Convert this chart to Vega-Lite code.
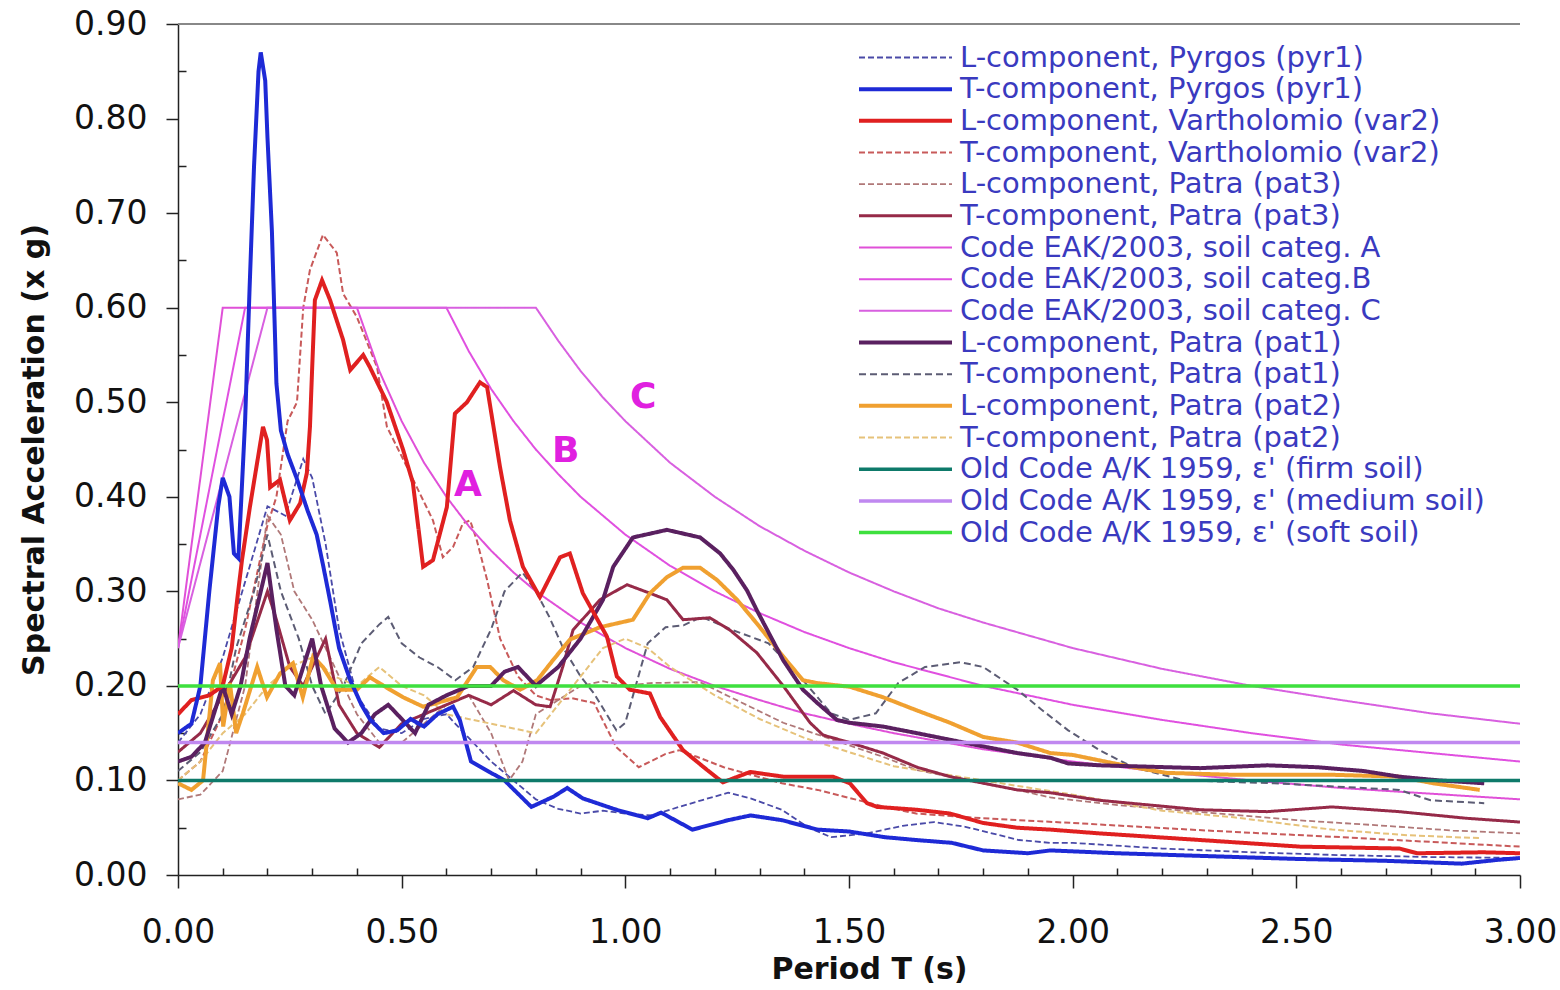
{
"$schema": "https://vega.github.io/schema/vega-lite/v6.json",
"width": 1342, "height": 851,
"autosize": {"type": "none"},
"padding": {"left": 178, "top": 24, "right": 40, "bottom": 115},
"background": "white",
"config": {
  "view": {"stroke": null},
  "font": "DejaVu Sans",
  "axis": {"grid": false, "domainColor": "#222", "tickColor": "#222", "labelColor": "#111", "titleColor": "#111", "domainWidth": 1.5, "tickWidth": 1.5, "labelFont": "DejaVu Sans", "titleFont": "DejaVu Sans"}
},
"datasets": {
"series": [
{"s":"a","T":0,"v":0.14},{"s":"a","T":0.05,"v":0.17},{"s":"a","T":0.1,"v":0.23},{"s":"a","T":0.15,"v":0.31},{"s":"a","T":0.2,"v":0.39},{"s":"a","T":0.24,"v":0.38},{"s":"a","T":0.28,"v":0.44},{"s":"a","T":0.3,"v":0.42},{"s":"a","T":0.33,"v":0.35},{"s":"a","T":0.36,"v":0.26},{"s":"a","T":0.4,"v":0.19},{"s":"a","T":0.45,"v":0.155},{"s":"a","T":0.5,"v":0.15},{"s":"a","T":0.55,"v":0.165},{"s":"a","T":0.6,"v":0.17},{"s":"a","T":0.65,"v":0.145},{"s":"a","T":0.7,"v":0.12},{"s":"a","T":0.75,"v":0.1},{"s":"a","T":0.8,"v":0.08},{"s":"a","T":0.85,"v":0.07},{"s":"a","T":0.9,"v":0.065},{"s":"a","T":0.95,"v":0.068},{"s":"a","T":1.0,"v":0.065},{"s":"a","T":1.06,"v":0.063},{"s":"a","T":1.12,"v":0.072},{"s":"a","T":1.17,"v":0.079},{"s":"a","T":1.23,"v":0.087},{"s":"a","T":1.28,"v":0.081},{"s":"a","T":1.35,"v":0.069},{"s":"a","T":1.41,"v":0.05},{"s":"a","T":1.46,"v":0.04},{"s":"a","T":1.54,"v":0.044},{"s":"a","T":1.62,"v":0.052},{"s":"a","T":1.69,"v":0.056},{"s":"a","T":1.76,"v":0.051},{"s":"a","T":1.88,"v":0.037},{"s":"a","T":1.95,"v":0.034},{"s":"a","T":2.0,"v":0.034},{"s":"a","T":2.2,"v":0.028},{"s":"a","T":2.4,"v":0.024},{"s":"a","T":2.6,"v":0.021},{"s":"a","T":2.8,"v":0.019},{"s":"a","T":3.0,"v":0.018},
{"s":"d","T":0,"v":0.1},{"s":"d","T":0.05,"v":0.12},{"s":"d","T":0.1,"v":0.17},{"s":"d","T":0.15,"v":0.26},{"s":"d","T":0.2,"v":0.37},{"s":"d","T":0.22,"v":0.4},{"s":"d","T":0.245,"v":0.48},{"s":"d","T":0.266,"v":0.5},{"s":"d","T":0.28,"v":0.6},{"s":"d","T":0.295,"v":0.64},{"s":"d","T":0.324,"v":0.677},{"s":"d","T":0.355,"v":0.658},{"s":"d","T":0.369,"v":0.615},{"s":"d","T":0.4,"v":0.59},{"s":"d","T":0.445,"v":0.537},{"s":"d","T":0.467,"v":0.474},{"s":"d","T":0.503,"v":0.44},{"s":"d","T":0.534,"v":0.41},{"s":"d","T":0.57,"v":0.375},{"s":"d","T":0.592,"v":0.336},{"s":"d","T":0.615,"v":0.347},{"s":"d","T":0.637,"v":0.372},{"s":"d","T":0.653,"v":0.375},{"s":"d","T":0.668,"v":0.354},{"s":"d","T":0.691,"v":0.312},{"s":"d","T":0.72,"v":0.25},{"s":"d","T":0.76,"v":0.21},{"s":"d","T":0.8,"v":0.19},{"s":"d","T":0.832,"v":0.185},{"s":"d","T":0.88,"v":0.187},{"s":"d","T":0.93,"v":0.182},{"s":"d","T":0.98,"v":0.135},{"s":"d","T":1.03,"v":0.114},{"s":"d","T":1.09,"v":0.128},{"s":"d","T":1.12,"v":0.132},{"s":"d","T":1.16,"v":0.125},{"s":"d","T":1.22,"v":0.114},{"s":"d","T":1.35,"v":0.097},{"s":"d","T":1.43,"v":0.09},{"s":"d","T":1.58,"v":0.072},{"s":"d","T":1.65,"v":0.065},{"s":"d","T":1.8,"v":0.06},{"s":"d","T":2.0,"v":0.055},{"s":"d","T":2.3,"v":0.047},{"s":"d","T":2.6,"v":0.04},{"s":"d","T":3.0,"v":0.03},
{"s":"e","T":0,"v":0.08},{"s":"e","T":0.05,"v":0.085},{"s":"e","T":0.1,"v":0.11},{"s":"e","T":0.15,"v":0.2},{"s":"e","T":0.2,"v":0.38},{"s":"e","T":0.23,"v":0.36},{"s":"e","T":0.26,"v":0.3},{"s":"e","T":0.3,"v":0.27},{"s":"e","T":0.35,"v":0.22},{"s":"e","T":0.4,"v":0.17},{"s":"e","T":0.45,"v":0.14},{"s":"e","T":0.5,"v":0.14},{"s":"e","T":0.55,"v":0.16},{"s":"e","T":0.6,"v":0.18},{"s":"e","T":0.65,"v":0.19},{"s":"e","T":0.7,"v":0.15},{"s":"e","T":0.74,"v":0.1},{"s":"e","T":0.77,"v":0.12},{"s":"e","T":0.8,"v":0.17},{"s":"e","T":0.85,"v":0.185},{"s":"e","T":0.9,"v":0.2},{"s":"e","T":0.95,"v":0.205},{"s":"e","T":1.0,"v":0.2},{"s":"e","T":1.055,"v":0.203},{"s":"e","T":1.167,"v":0.204},{"s":"e","T":1.218,"v":0.192},{"s":"e","T":1.279,"v":0.178},{"s":"e","T":1.353,"v":0.161},{"s":"e","T":1.464,"v":0.143},{"s":"e","T":1.576,"v":0.125},{"s":"e","T":1.652,"v":0.111},{"s":"e","T":1.8,"v":0.097},{"s":"e","T":1.876,"v":0.09},{"s":"e","T":1.95,"v":0.082},{"s":"e","T":2.1,"v":0.074},{"s":"e","T":2.3,"v":0.066},{"s":"e","T":2.5,"v":0.058},{"s":"e","T":2.7,"v":0.052},{"s":"e","T":2.85,"v":0.047},{"s":"e","T":3.0,"v":0.044},
{"s":"g","T":0,"v":0.24},{"s":"g","T":0.1,"v":0.6},{"s":"g","T":0.4,"v":0.6},{"s":"g","T":0.45,"v":0.533},{"s":"g","T":0.5,"v":0.48},{"s":"g","T":0.55,"v":0.436},{"s":"g","T":0.6,"v":0.4},{"s":"g","T":0.65,"v":0.369},{"s":"g","T":0.7,"v":0.343},{"s":"g","T":0.75,"v":0.32},{"s":"g","T":0.8,"v":0.3},{"s":"g","T":0.9,"v":0.267},{"s":"g","T":1.0,"v":0.24},{"s":"g","T":1.1,"v":0.218},{"s":"g","T":1.2,"v":0.2},{"s":"g","T":1.3,"v":0.185},{"s":"g","T":1.4,"v":0.171},{"s":"g","T":1.5,"v":0.16},{"s":"g","T":1.6,"v":0.15},{"s":"g","T":1.8,"v":0.133},{"s":"g","T":2.0,"v":0.12},{"s":"g","T":2.2,"v":0.109},{"s":"g","T":2.4,"v":0.1},{"s":"g","T":2.6,"v":0.092},{"s":"g","T":2.8,"v":0.086},{"s":"g","T":3.0,"v":0.08},
{"s":"h","T":0,"v":0.24},{"s":"h","T":0.15,"v":0.6},{"s":"h","T":0.6,"v":0.6},{"s":"h","T":0.65,"v":0.554},{"s":"h","T":0.7,"v":0.514},{"s":"h","T":0.75,"v":0.48},{"s":"h","T":0.8,"v":0.45},{"s":"h","T":0.85,"v":0.424},{"s":"h","T":0.9,"v":0.4},{"s":"h","T":1.0,"v":0.36},{"s":"h","T":1.1,"v":0.327},{"s":"h","T":1.2,"v":0.3},{"s":"h","T":1.3,"v":0.277},{"s":"h","T":1.4,"v":0.257},{"s":"h","T":1.5,"v":0.24},{"s":"h","T":1.6,"v":0.225},{"s":"h","T":1.8,"v":0.2},{"s":"h","T":2.0,"v":0.18},{"s":"h","T":2.2,"v":0.164},{"s":"h","T":2.4,"v":0.15},{"s":"h","T":2.6,"v":0.138},{"s":"h","T":2.8,"v":0.129},{"s":"h","T":3.0,"v":0.12},
{"s":"i","T":0,"v":0.24},{"s":"i","T":0.2,"v":0.6},{"s":"i","T":0.8,"v":0.6},{"s":"i","T":0.85,"v":0.565},{"s":"i","T":0.9,"v":0.533},{"s":"i","T":0.95,"v":0.505},{"s":"i","T":1.0,"v":0.48},{"s":"i","T":1.1,"v":0.436},{"s":"i","T":1.2,"v":0.4},{"s":"i","T":1.3,"v":0.369},{"s":"i","T":1.4,"v":0.343},{"s":"i","T":1.5,"v":0.32},{"s":"i","T":1.6,"v":0.3},{"s":"i","T":1.7,"v":0.282},{"s":"i","T":1.8,"v":0.267},{"s":"i","T":2.0,"v":0.24},{"s":"i","T":2.2,"v":0.218},{"s":"i","T":2.4,"v":0.2},{"s":"i","T":2.6,"v":0.185},{"s":"i","T":2.8,"v":0.171},{"s":"i","T":3.0,"v":0.16},
{"s":"k","T":0,"v":0.11},{"s":"k","T":0.05,"v":0.13},{"s":"k","T":0.1,"v":0.17},{"s":"k","T":0.13,"v":0.24},{"s":"k","T":0.17,"v":0.3},{"s":"k","T":0.2,"v":0.36},{"s":"k","T":0.23,"v":0.3},{"s":"k","T":0.27,"v":0.25},{"s":"k","T":0.3,"v":0.2},{"s":"k","T":0.33,"v":0.17},{"s":"k","T":0.37,"v":0.2},{"s":"k","T":0.41,"v":0.245},{"s":"k","T":0.45,"v":0.265},{"s":"k","T":0.47,"v":0.273},{"s":"k","T":0.5,"v":0.245},{"s":"k","T":0.54,"v":0.23},{"s":"k","T":0.58,"v":0.22},{"s":"k","T":0.62,"v":0.206},{"s":"k","T":0.66,"v":0.22},{"s":"k","T":0.7,"v":0.26},{"s":"k","T":0.73,"v":0.3},{"s":"k","T":0.77,"v":0.32},{"s":"k","T":0.8,"v":0.3},{"s":"k","T":0.83,"v":0.273},{"s":"k","T":0.86,"v":0.241},{"s":"k","T":0.9,"v":0.21},{"s":"k","T":0.93,"v":0.192},{"s":"k","T":0.98,"v":0.153},{"s":"k","T":1.0,"v":0.161},{"s":"k","T":1.05,"v":0.245},{"s":"k","T":1.09,"v":0.262},{"s":"k","T":1.13,"v":0.264},{"s":"k","T":1.17,"v":0.273},{"s":"k","T":1.24,"v":0.259},{"s":"k","T":1.32,"v":0.245},{"s":"k","T":1.39,"v":0.21},{"s":"k","T":1.46,"v":0.171},{"s":"k","T":1.5,"v":0.164},{"s":"k","T":1.56,"v":0.171},{"s":"k","T":1.61,"v":0.203},{"s":"k","T":1.67,"v":0.22},{"s":"k","T":1.75,"v":0.225},{"s":"k","T":1.8,"v":0.22},{"s":"k","T":1.876,"v":0.196},{"s":"k","T":1.93,"v":0.175},{"s":"k","T":1.99,"v":0.153},{"s":"k","T":2.06,"v":0.132},{"s":"k","T":2.135,"v":0.114},{"s":"k","T":2.25,"v":0.1},{"s":"k","T":2.45,"v":0.097},{"s":"k","T":2.73,"v":0.09},{"s":"k","T":2.8,"v":0.079},{"s":"k","T":2.92,"v":0.076},
{"s":"m","T":0,"v":0.1},{"s":"m","T":0.05,"v":0.12},{"s":"m","T":0.1,"v":0.15},{"s":"m","T":0.15,"v":0.17},{"s":"m","T":0.2,"v":0.2},{"s":"m","T":0.25,"v":0.22},{"s":"m","T":0.3,"v":0.23},{"s":"m","T":0.35,"v":0.21},{"s":"m","T":0.4,"v":0.2},{"s":"m","T":0.45,"v":0.22},{"s":"m","T":0.5,"v":0.2},{"s":"m","T":0.55,"v":0.19},{"s":"m","T":0.6,"v":0.17},{"s":"m","T":0.7,"v":0.16},{"s":"m","T":0.8,"v":0.15},{"s":"m","T":0.85,"v":0.18},{"s":"m","T":0.9,"v":0.21},{"s":"m","T":0.95,"v":0.24},{"s":"m","T":1.0,"v":0.25},{"s":"m","T":1.05,"v":0.24},{"s":"m","T":1.1,"v":0.22},{"s":"m","T":1.2,"v":0.19},{"s":"m","T":1.3,"v":0.165},{"s":"m","T":1.4,"v":0.145},{"s":"m","T":1.5,"v":0.13},{"s":"m","T":1.6,"v":0.115},{"s":"m","T":1.8,"v":0.1},{"s":"m","T":2.0,"v":0.085},{"s":"m","T":2.2,"v":0.068},{"s":"m","T":2.36,"v":0.061},{"s":"m","T":2.58,"v":0.048},{"s":"m","T":2.75,"v":0.042},{"s":"m","T":2.91,"v":0.039},
{"s":"f","T":0,"v":0.13},{"s":"f","T":0.05,"v":0.15},{"s":"f","T":0.1,"v":0.19},{"s":"f","T":0.15,"v":0.23},{"s":"f","T":0.2,"v":0.3},{"s":"f","T":0.22,"v":0.27},{"s":"f","T":0.25,"v":0.22},{"s":"f","T":0.28,"v":0.2},{"s":"f","T":0.3,"v":0.22},{"s":"f","T":0.33,"v":0.25},{"s":"f","T":0.36,"v":0.18},{"s":"f","T":0.4,"v":0.15},{"s":"f","T":0.45,"v":0.135},{"s":"f","T":0.5,"v":0.16},{"s":"f","T":0.55,"v":0.17},{"s":"f","T":0.6,"v":0.18},{"s":"f","T":0.65,"v":0.19},{"s":"f","T":0.7,"v":0.18},{"s":"f","T":0.75,"v":0.195},{"s":"f","T":0.8,"v":0.18},{"s":"f","T":0.832,"v":0.178},{"s":"f","T":0.86,"v":0.22},{"s":"f","T":0.883,"v":0.259},{"s":"f","T":0.943,"v":0.291},{"s":"f","T":1.004,"v":0.307},{"s":"f","T":1.055,"v":0.298},{"s":"f","T":1.093,"v":0.291},{"s":"f","T":1.129,"v":0.27},{"s":"f","T":1.189,"v":0.272},{"s":"f","T":1.234,"v":0.259},{"s":"f","T":1.294,"v":0.235},{"s":"f","T":1.353,"v":0.2},{"s":"f","T":1.413,"v":0.161},{"s":"f","T":1.442,"v":0.148},{"s":"f","T":1.502,"v":0.14},{"s":"f","T":1.576,"v":0.129},{"s":"f","T":1.652,"v":0.114},{"s":"f","T":1.726,"v":0.104},{"s":"f","T":1.876,"v":0.09},{"s":"f","T":1.95,"v":0.087},{"s":"f","T":2.06,"v":0.079},{"s":"f","T":2.285,"v":0.069},{"s":"f","T":2.435,"v":0.067},{"s":"f","T":2.58,"v":0.072},{"s":"f","T":2.73,"v":0.067},{"s":"f","T":2.88,"v":0.06},{"s":"f","T":3.0,"v":0.056},
{"s":"l","T":0,"v":0.097},{"s":"l","T":0.03,"v":0.09},{"s":"l","T":0.056,"v":0.1},{"s":"l","T":0.078,"v":0.206},{"s":"l","T":0.094,"v":0.224},{"s":"l","T":0.101,"v":0.157},{"s":"l","T":0.116,"v":0.203},{"s":"l","T":0.13,"v":0.15},{"s":"l","T":0.145,"v":0.171},{"s":"l","T":0.177,"v":0.22},{"s":"l","T":0.199,"v":0.188},{"s":"l","T":0.228,"v":0.213},{"s":"l","T":0.257,"v":0.224},{"s":"l","T":0.279,"v":0.188},{"s":"l","T":0.302,"v":0.231},{"s":"l","T":0.324,"v":0.22},{"s":"l","T":0.355,"v":0.196},{"s":"l","T":0.4,"v":0.196},{"s":"l","T":0.429,"v":0.209},{"s":"l","T":0.474,"v":0.196},{"s":"l","T":0.503,"v":0.188},{"s":"l","T":0.548,"v":0.178},{"s":"l","T":0.579,"v":0.182},{"s":"l","T":0.624,"v":0.188},{"s":"l","T":0.668,"v":0.22},{"s":"l","T":0.698,"v":0.22},{"s":"l","T":0.727,"v":0.206},{"s":"l","T":0.765,"v":0.196},{"s":"l","T":0.803,"v":0.206},{"s":"l","T":0.838,"v":0.227},{"s":"l","T":0.876,"v":0.249},{"s":"l","T":0.943,"v":0.262},{"s":"l","T":1.017,"v":0.27},{"s":"l","T":1.055,"v":0.298},{"s":"l","T":1.093,"v":0.315},{"s":"l","T":1.129,"v":0.325},{"s":"l","T":1.167,"v":0.325},{"s":"l","T":1.205,"v":0.312},{"s":"l","T":1.25,"v":0.291},{"s":"l","T":1.294,"v":0.266},{"s":"l","T":1.353,"v":0.231},{"s":"l","T":1.397,"v":0.206},{"s":"l","T":1.429,"v":0.203},{"s":"l","T":1.502,"v":0.199},{"s":"l","T":1.576,"v":0.188},{"s":"l","T":1.652,"v":0.174},{"s":"l","T":1.726,"v":0.161},{"s":"l","T":1.8,"v":0.146},{"s":"l","T":1.876,"v":0.14},{"s":"l","T":1.95,"v":0.129},{"s":"l","T":2.0,"v":0.127},{"s":"l","T":2.135,"v":0.114},{"s":"l","T":2.21,"v":0.108},{"s":"l","T":2.36,"v":0.106},{"s":"l","T":2.58,"v":0.106},{"s":"l","T":2.73,"v":0.104},{"s":"l","T":2.806,"v":0.097},{"s":"l","T":2.91,"v":0.09},
{"s":"j","T":0,"v":0.12},{"s":"j","T":0.03,"v":0.125},{"s":"j","T":0.06,"v":0.14},{"s":"j","T":0.08,"v":0.17},{"s":"j","T":0.1,"v":0.2},{"s":"j","T":0.12,"v":0.17},{"s":"j","T":0.14,"v":0.2},{"s":"j","T":0.16,"v":0.25},{"s":"j","T":0.18,"v":0.29},{"s":"j","T":0.2,"v":0.33},{"s":"j","T":0.22,"v":0.26},{"s":"j","T":0.24,"v":0.2},{"s":"j","T":0.26,"v":0.19},{"s":"j","T":0.28,"v":0.22},{"s":"j","T":0.3,"v":0.25},{"s":"j","T":0.32,"v":0.2},{"s":"j","T":0.35,"v":0.155},{"s":"j","T":0.38,"v":0.14},{"s":"j","T":0.41,"v":0.15},{"s":"j","T":0.44,"v":0.17},{"s":"j","T":0.47,"v":0.18},{"s":"j","T":0.5,"v":0.165},{"s":"j","T":0.53,"v":0.15},{"s":"j","T":0.56,"v":0.18},{"s":"j","T":0.6,"v":0.19},{"s":"j","T":0.65,"v":0.2},{"s":"j","T":0.7,"v":0.2},{"s":"j","T":0.73,"v":0.215},{"s":"j","T":0.76,"v":0.22},{"s":"j","T":0.8,"v":0.2},{"s":"j","T":0.85,"v":0.22},{"s":"j","T":0.9,"v":0.25},{"s":"j","T":0.95,"v":0.291},{"s":"j","T":0.973,"v":0.326},{"s":"j","T":1.017,"v":0.357},{"s":"j","T":1.093,"v":0.365},{"s":"j","T":1.167,"v":0.357},{"s":"j","T":1.212,"v":0.34},{"s":"j","T":1.241,"v":0.323},{"s":"j","T":1.272,"v":0.301},{"s":"j","T":1.294,"v":0.28},{"s":"j","T":1.353,"v":0.227},{"s":"j","T":1.397,"v":0.196},{"s":"j","T":1.429,"v":0.182},{"s":"j","T":1.473,"v":0.164},{"s":"j","T":1.502,"v":0.161},{"s":"j","T":1.576,"v":0.157},{"s":"j","T":1.652,"v":0.15},{"s":"j","T":1.726,"v":0.143},{"s":"j","T":1.8,"v":0.136},{"s":"j","T":1.876,"v":0.129},{"s":"j","T":1.95,"v":0.124},{"s":"j","T":1.99,"v":0.118},{"s":"j","T":2.06,"v":0.116},{"s":"j","T":2.285,"v":0.113},{"s":"j","T":2.435,"v":0.116},{"s":"j","T":2.546,"v":0.114},{"s":"j","T":2.65,"v":0.11},{"s":"j","T":2.73,"v":0.104},{"s":"j","T":2.82,"v":0.1},{"s":"j","T":2.92,"v":0.097},
{"s":"c","T":0,"v":0.17},{"s":"c","T":0.03,"v":0.185},{"s":"c","T":0.07,"v":0.19},{"s":"c","T":0.1,"v":0.2},{"s":"c","T":0.12,"v":0.24},{"s":"c","T":0.132,"v":0.29},{"s":"c","T":0.143,"v":0.333},{"s":"c","T":0.161,"v":0.39},{"s":"c","T":0.19,"v":0.474},{"s":"c","T":0.199,"v":0.46},{"s":"c","T":0.206,"v":0.41},{"s":"c","T":0.228,"v":0.418},{"s":"c","T":0.25,"v":0.375},{"s":"c","T":0.273,"v":0.393},{"s":"c","T":0.288,"v":0.425},{"s":"c","T":0.295,"v":0.474},{"s":"c","T":0.3,"v":0.537},{"s":"c","T":0.306,"v":0.608},{"s":"c","T":0.322,"v":0.629},{"s":"c","T":0.34,"v":0.608},{"s":"c","T":0.369,"v":0.566},{"s":"c","T":0.385,"v":0.534},{"s":"c","T":0.414,"v":0.55},{"s":"c","T":0.429,"v":0.537},{"s":"c","T":0.467,"v":0.5},{"s":"c","T":0.503,"v":0.45},{"s":"c","T":0.525,"v":0.415},{"s":"c","T":0.548,"v":0.326},{"s":"c","T":0.57,"v":0.333},{"s":"c","T":0.601,"v":0.389},{"s":"c","T":0.619,"v":0.488},{"s":"c","T":0.646,"v":0.5},{"s":"c","T":0.675,"v":0.521},{"s":"c","T":0.691,"v":0.516},{"s":"c","T":0.72,"v":0.431},{"s":"c","T":0.742,"v":0.375},{"s":"c","T":0.771,"v":0.326},{"s":"c","T":0.809,"v":0.294},{"s":"c","T":0.854,"v":0.336},{"s":"c","T":0.876,"v":0.34},{"s":"c","T":0.905,"v":0.298},{"s":"c","T":0.959,"v":0.252},{"s":"c","T":0.981,"v":0.21},{"s":"c","T":1.01,"v":0.196},{"s":"c","T":1.055,"v":0.192},{"s":"c","T":1.078,"v":0.167},{"s":"c","T":1.129,"v":0.132},{"s":"c","T":1.183,"v":0.111},{"s":"c","T":1.218,"v":0.098},{"s":"c","T":1.279,"v":0.109},{"s":"c","T":1.353,"v":0.104},{"s":"c","T":1.464,"v":0.104},{"s":"c","T":1.502,"v":0.097},{"s":"c","T":1.54,"v":0.076},{"s":"c","T":1.563,"v":0.072},{"s":"c","T":1.652,"v":0.069},{"s":"c","T":1.726,"v":0.065},{"s":"c","T":1.8,"v":0.055},{"s":"c","T":1.876,"v":0.05},{"s":"c","T":1.95,"v":0.048},{"s":"c","T":2.06,"v":0.044},{"s":"c","T":2.285,"v":0.037},{"s":"c","T":2.508,"v":0.03},{"s":"c","T":2.73,"v":0.028},{"s":"c","T":2.77,"v":0.023},{"s":"c","T":2.917,"v":0.024},{"s":"c","T":3.0,"v":0.023},
{"s":"b","T":0,"v":0.15},{"s":"b","T":0.03,"v":0.16},{"s":"b","T":0.05,"v":0.2},{"s":"b","T":0.07,"v":0.3},{"s":"b","T":0.09,"v":0.39},{"s":"b","T":0.1,"v":0.42},{"s":"b","T":0.115,"v":0.4},{"s":"b","T":0.125,"v":0.34},{"s":"b","T":0.135,"v":0.335},{"s":"b","T":0.15,"v":0.48},{"s":"b","T":0.16,"v":0.62},{"s":"b","T":0.17,"v":0.75},{"s":"b","T":0.18,"v":0.85},{"s":"b","T":0.185,"v":0.87},{"s":"b","T":0.195,"v":0.84},{"s":"b","T":0.2,"v":0.78},{"s":"b","T":0.21,"v":0.68},{"s":"b","T":0.215,"v":0.6},{"s":"b","T":0.22,"v":0.52},{"s":"b","T":0.23,"v":0.47},{"s":"b","T":0.245,"v":0.445},{"s":"b","T":0.265,"v":0.42},{"s":"b","T":0.29,"v":0.385},{"s":"b","T":0.31,"v":0.36},{"s":"b","T":0.325,"v":0.326},{"s":"b","T":0.34,"v":0.29},{"s":"b","T":0.36,"v":0.24},{"s":"b","T":0.385,"v":0.206},{"s":"b","T":0.41,"v":0.18},{"s":"b","T":0.43,"v":0.164},{"s":"b","T":0.46,"v":0.15},{"s":"b","T":0.49,"v":0.153},{"s":"b","T":0.52,"v":0.165},{"s":"b","T":0.55,"v":0.157},{"s":"b","T":0.58,"v":0.17},{"s":"b","T":0.615,"v":0.178},{"s":"b","T":0.63,"v":0.164},{"s":"b","T":0.655,"v":0.12},{"s":"b","T":0.7,"v":0.108},{"s":"b","T":0.73,"v":0.1},{"s":"b","T":0.79,"v":0.072},{"s":"b","T":0.84,"v":0.083},{"s":"b","T":0.87,"v":0.092},{"s":"b","T":0.905,"v":0.081},{"s":"b","T":0.98,"v":0.069},{"s":"b","T":1.05,"v":0.06},{"s":"b","T":1.08,"v":0.066},{"s":"b","T":1.15,"v":0.048},{"s":"b","T":1.23,"v":0.058},{"s":"b","T":1.28,"v":0.063},{"s":"b","T":1.35,"v":0.058},{"s":"b","T":1.43,"v":0.048},{"s":"b","T":1.5,"v":0.046},{"s":"b","T":1.58,"v":0.04},{"s":"b","T":1.65,"v":0.037},{"s":"b","T":1.73,"v":0.034},{"s":"b","T":1.8,"v":0.026},{"s":"b","T":1.9,"v":0.023},{"s":"b","T":1.95,"v":0.026},{"s":"b","T":2.0,"v":0.025},{"s":"b","T":2.1,"v":0.023},{"s":"b","T":2.3,"v":0.02},{"s":"b","T":2.5,"v":0.017},{"s":"b","T":2.7,"v":0.015},{"s":"b","T":2.87,"v":0.012},{"s":"b","T":2.95,"v":0.016},{"s":"b","T":3.0,"v":0.018},
{"s":"n","T":0,"v":0.1},{"s":"n","T":3,"v":0.1},
{"s":"o","T":0,"v":0.14},{"s":"o","T":3,"v":0.14},
{"s":"p","T":0,"v":0.2},{"s":"p","T":3,"v":0.2}
],
"labels": [
{"T":0.648,"v":0.412,"t":"A"},{"T":0.867,"v":0.448,"t":"B"},{"T":1.04,"v":0.505,"t":"C"}
],
"frame": [{"T":0,"v":0.9},{"T":3,"v":0.9}]
},
"encoding": {
  "x": {"field": "T", "type": "quantitative", "scale": {"domain": [0, 3], "nice": false, "zero": false},
    "axis": {"values": [0,0.1,0.2,0.3,0.4,0.5,0.6,0.7,0.8,0.9,1,1.1,1.2,1.3,1.4,1.5,1.6,1.7,1.8,1.9,2,2.1,2.2,2.3,2.4,2.5,2.6,2.7,2.8,2.9,3],
      "labelExpr": "abs(datum.value*2-round(datum.value*2))<0.001 ? format(datum.value,'.2f') : ''",
      "tickSize": {"condition": {"test": "abs(datum.value*2-round(datum.value*2))<0.001", "value": 13}, "value": -7},
      "labelFontSize": 33, "labelPadding": 28, "labelFlush": false, "labelOverlap": false,
      "title": "Period T (s)", "titleFontSize": 30, "titleFontWeight": "bold", "titlePadding": 5, "titleX": 691}},
  "y": {"field": "v", "type": "quantitative", "scale": {"domain": [0, 0.9], "nice": false, "zero": false},
    "axis": {"values": [0,0.05,0.1,0.15,0.2,0.25,0.3,0.35,0.4,0.45,0.5,0.55,0.6,0.65,0.7,0.75,0.8,0.85,0.9],
      "labelExpr": "abs(datum.value*10-round(datum.value*10))<0.001 ? format(datum.value,'.2f') : ''",
      "tickSize": {"condition": {"test": "abs(datum.value*10-round(datum.value*10))<0.001", "value": 12}, "value": -8},
      "labelFontSize": 33, "labelPadding": 19, "labelFlush": false, "labelOverlap": false,
      "title": "Spectral Acceleration (x g)", "titleFontSize": 30, "titleFontWeight": "bold", "titlePadding": 24}}
},
"layer": [
{
  "data": {"name": "series"},
  "mark": {"type": "line", "clip": true},
  "encoding": {
    "color": {"field": "s", "type": "nominal", "title": null, "sort": null,
      "scale": {"domain": ["a","b","c","d","e","f","g","h","i","j","k","l","m","n","o","p"],
        "range": ["#4a4aa8","#1e2ad6","#e02020","#c85a5a","#b07878","#962a48","#e050d8","#e050e0","#d860e0","#5a2060","#5c5c74","#f0a030","#e6c27a","#0e7a6a","#c088f0","#3ee03e"]},
      "legend": {"orient": "none", "legendX": 679, "legendY": 18, "direction": "vertical", "padding": 0,
        "labelExpr": "{\"a\":\"L-component, Pyrgos (pyr1)\",\"b\":\"T-component, Pyrgos (pyr1)\",\"c\":\"L-component, Vartholomio (var2)\",\"d\":\"T-component, Vartholomio (var2)\",\"e\":\"L-component, Patra (pat3)\",\"f\":\"T-component, Patra (pat3)\",\"g\":\"Code EAK/2003, soil categ. A\",\"h\":\"Code EAK/2003, soil categ.B\",\"i\":\"Code EAK/2003, soil categ. C\",\"j\":\"L-component, Patra (pat1)\",\"k\":\"T-component, Patra (pat1)\",\"l\":\"L-component, Patra (pat2)\",\"m\":\"T-component, Patra (pat2)\",\"n\":\"Old Code A/K 1959, ε' (firm soil)\",\"o\":\"Old Code A/K 1959, ε' (medium soil)\",\"p\":\"Old Code A/K 1959, ε' (soft soil)\"}[datum.value]",
        "labelFont": "DejaVu Sans", "labelFontSize": 29, "labelFontWeight": "normal", "labelColor": "#3a3abf", "labelLimit": 800, "labelOffset": 6,
        "symbolSize": 8649, "symbolType": "stroke", "clipHeight": 31, "rowPadding": 0.67}},
    "strokeDash": {"field": "s", "type": "nominal", "title": null, "sort": null,
      "scale": {"domain": ["a","b","c","d","e","f","g","h","i","j","k","l","m","n","o","p"],
        "range": [[6,3],[1,0],[1,0],[6,3],[6,3],[1,0],[1,0],[1,0],[1,0],[1,0],[7,4],[1,0],[6,3],[1,0],[1,0],[1,0]]},
      "legend": {"orient": "none", "legendX": 679, "legendY": 18, "direction": "vertical", "padding": 0,
        "labelExpr": "{\"a\":\"L-component, Pyrgos (pyr1)\",\"b\":\"T-component, Pyrgos (pyr1)\",\"c\":\"L-component, Vartholomio (var2)\",\"d\":\"T-component, Vartholomio (var2)\",\"e\":\"L-component, Patra (pat3)\",\"f\":\"T-component, Patra (pat3)\",\"g\":\"Code EAK/2003, soil categ. A\",\"h\":\"Code EAK/2003, soil categ.B\",\"i\":\"Code EAK/2003, soil categ. C\",\"j\":\"L-component, Patra (pat1)\",\"k\":\"T-component, Patra (pat1)\",\"l\":\"L-component, Patra (pat2)\",\"m\":\"T-component, Patra (pat2)\",\"n\":\"Old Code A/K 1959, ε' (firm soil)\",\"o\":\"Old Code A/K 1959, ε' (medium soil)\",\"p\":\"Old Code A/K 1959, ε' (soft soil)\"}[datum.value]",
        "labelFont": "DejaVu Sans", "labelFontSize": 29, "labelFontWeight": "normal", "labelColor": "#3a3abf", "labelLimit": 800, "labelOffset": 6,
        "symbolSize": 8649, "symbolType": "stroke", "clipHeight": 31, "rowPadding": 0.67}},
    "strokeWidth": {"field": "s", "type": "nominal", "title": null, "sort": null,
      "scale": {"type": "ordinal", "domain": ["a","b","c","d","e","f","g","h","i","j","k","l","m","n","o","p"],
        "range": [1.8,4,4,2,1.8,3,2,2,2,4,2,4,2,3.5,3.5,3.5]},
      "legend": {"orient": "none", "legendX": 679, "legendY": 18, "direction": "vertical", "padding": 0,
        "labelExpr": "{\"a\":\"L-component, Pyrgos (pyr1)\",\"b\":\"T-component, Pyrgos (pyr1)\",\"c\":\"L-component, Vartholomio (var2)\",\"d\":\"T-component, Vartholomio (var2)\",\"e\":\"L-component, Patra (pat3)\",\"f\":\"T-component, Patra (pat3)\",\"g\":\"Code EAK/2003, soil categ. A\",\"h\":\"Code EAK/2003, soil categ.B\",\"i\":\"Code EAK/2003, soil categ. C\",\"j\":\"L-component, Patra (pat1)\",\"k\":\"T-component, Patra (pat1)\",\"l\":\"L-component, Patra (pat2)\",\"m\":\"T-component, Patra (pat2)\",\"n\":\"Old Code A/K 1959, ε' (firm soil)\",\"o\":\"Old Code A/K 1959, ε' (medium soil)\",\"p\":\"Old Code A/K 1959, ε' (soft soil)\"}[datum.value]",
        "labelFont": "DejaVu Sans", "labelFontSize": 29, "labelFontWeight": "normal", "labelColor": "#3a3abf", "labelLimit": 800, "labelOffset": 6,
        "symbolSize": 8649, "symbolType": "stroke", "clipHeight": 31, "rowPadding": 0.67}}
  }
},
{
  "data": {"name": "labels"},
  "mark": {"type": "text", "font": "DejaVu Sans", "fontSize": 36, "fontWeight": "bold", "color": "#e020e0", "align": "center", "baseline": "middle"},
  "encoding": {"text": {"field": "t", "type": "nominal"}}
},
{
  "data": {"name": "frame"},
  "mark": {"type": "line", "color": "#888888", "strokeWidth": 2, "clip": false},
  "encoding": {}
}
]
}
